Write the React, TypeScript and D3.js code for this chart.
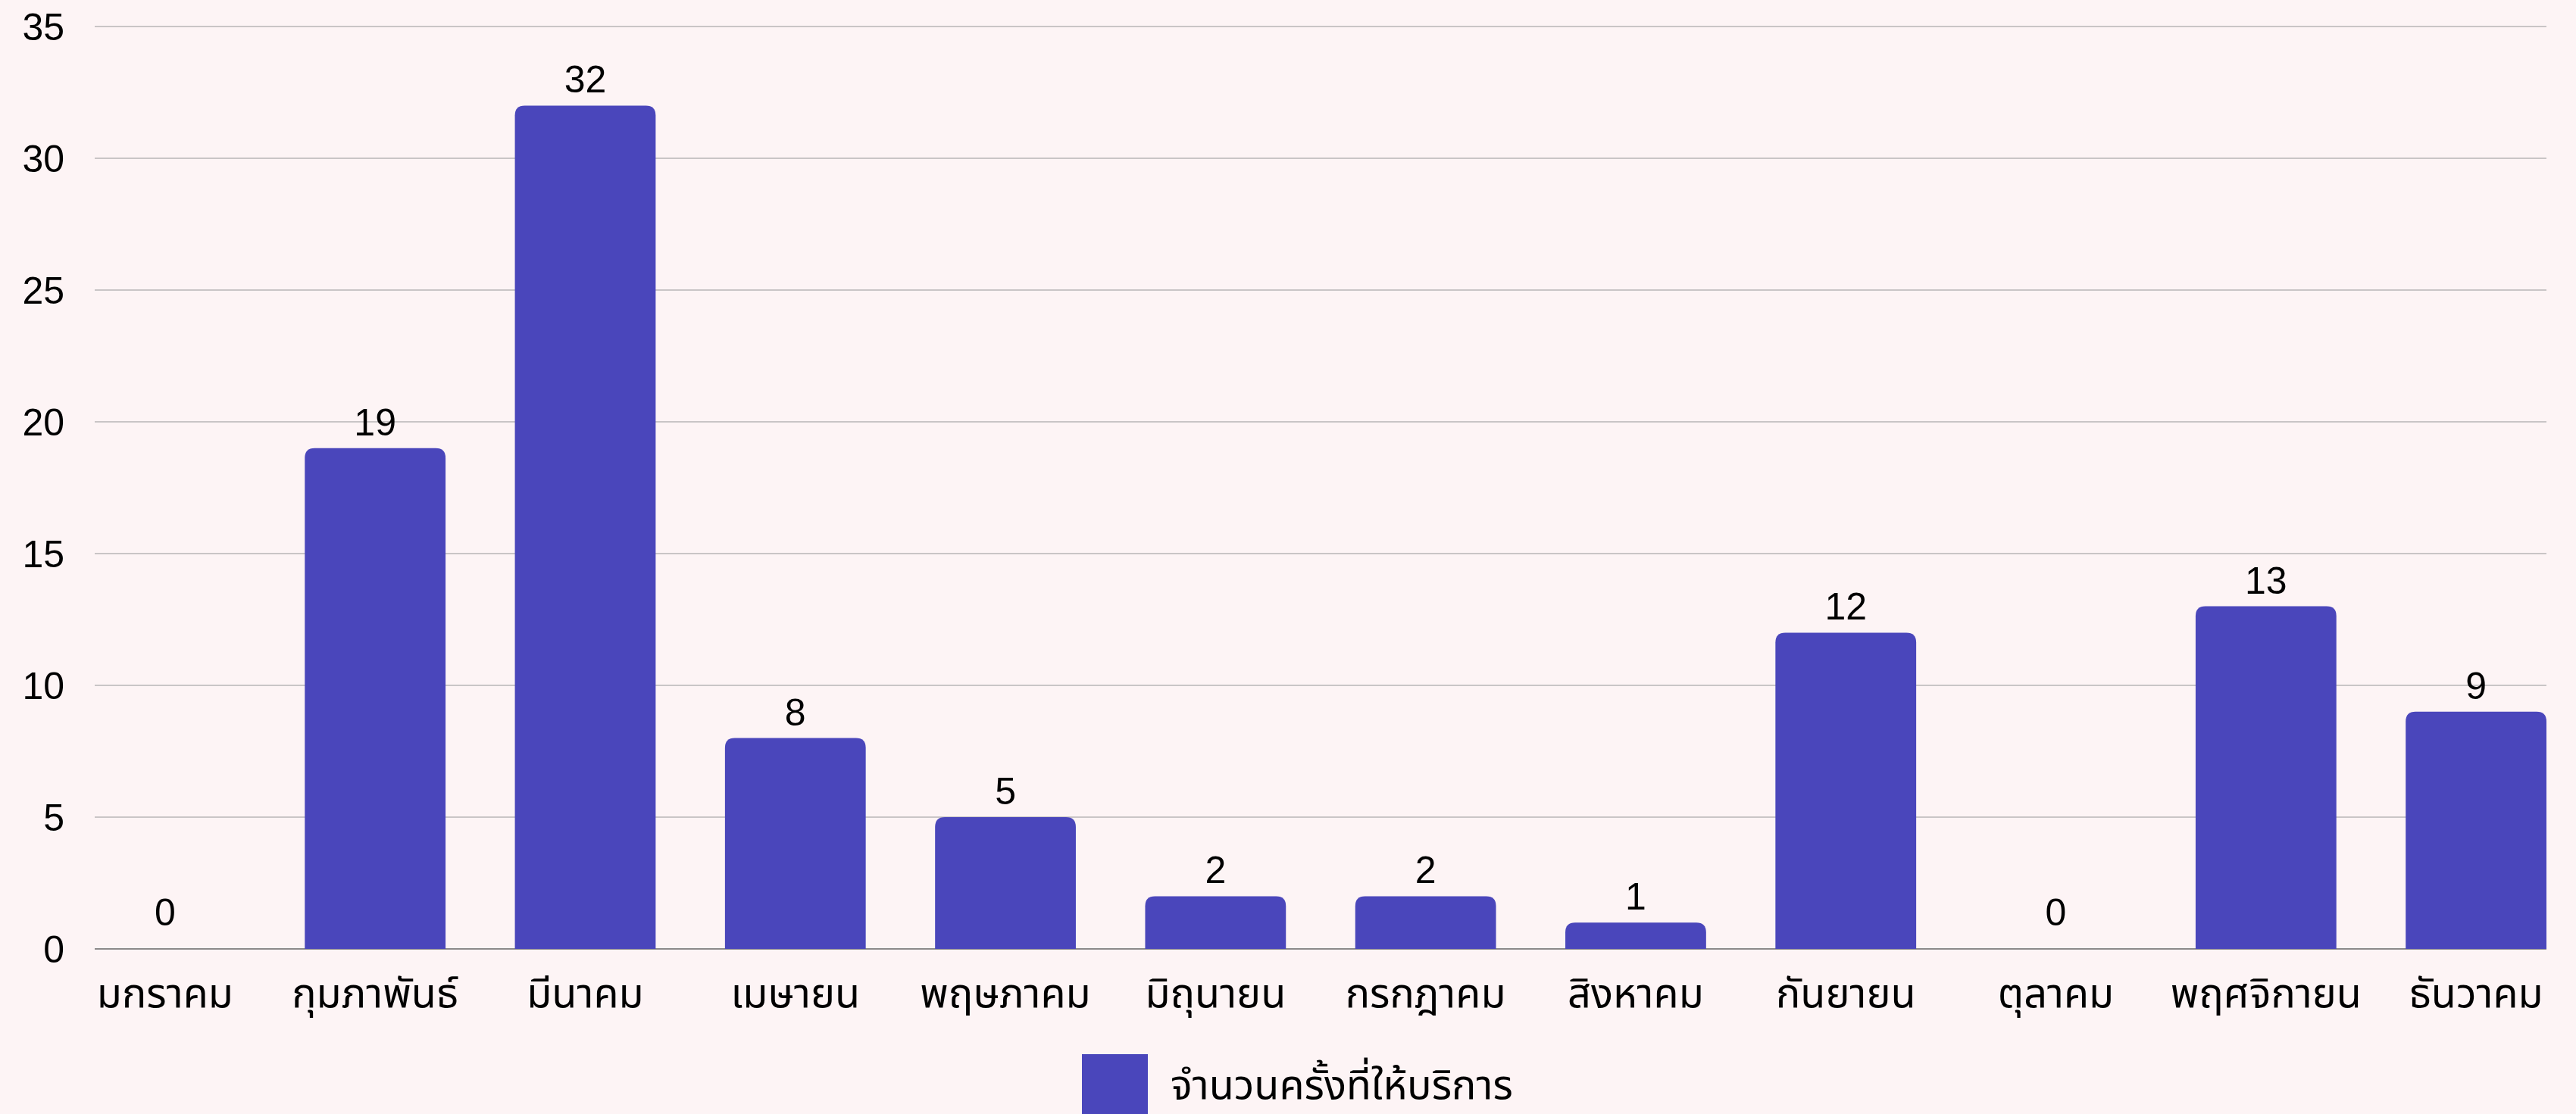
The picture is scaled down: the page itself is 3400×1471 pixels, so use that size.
import React, { useEffect, useRef } from 'react';
import * as d3 from 'd3';

const months = [
  'มกราคม', 'กุมภาพันธ์', 'มีนาคม', 'เมษายน', 'พฤษภาคม', 'มิถุนายน',
  'กรกฎาคม', 'สิงหาคม', 'กันยายน', 'ตุลาคม', 'พฤศจิกายน', 'ธันวาคม'
];
const serviceCounts = [0, 19, 32, 8, 5, 2, 2, 1, 12, 0, 13, 9];
const yTicks = [0, 5, 10, 15, 20, 25, 30, 35];
const seriesName = 'จำนวนครั้งที่ให้บริการ';

const W = 3400;
const H = 1471;
const BG = '#fdf4f5';
const BAR = '#4a46bb';
const NUM_FONT = '"Liberation Sans", Arial, sans-serif';
const THAI_FONT = '"Noto Sans Thai", "Noto Sans", sans-serif';

export default function App() {
  const svgRef = useRef<SVGSVGElement | null>(null);

  useEffect(() => {
    document.body.style.margin = '0';
    document.body.style.background = BG;
    const svg = d3.select(svgRef.current);
    svg.selectAll('*').remove();

    const margin = { top: 35, right: 39, bottom: 218, left: 125 };

    const x = d3.scaleBand<string>()
      .domain(months)
      .range([margin.left, W - margin.right])
      .paddingInner(0.33)
      .paddingOuter(0);

    const y = d3.scaleLinear()
      .domain([0, 35])
      .range([H - margin.bottom, margin.top]);

    svg.append('rect').attr('width', W).attr('height', H).attr('fill', BG);

    // grid lines
    svg.append('g')
      .selectAll('line')
      .data(yTicks)
      .join('line')
      .attr('x1', margin.left)
      .attr('x2', W - margin.right)
      .attr('y1', d => y(d))
      .attr('y2', d => y(d))
      .attr('stroke', d => (d === 0 ? '#8c8a8a' : '#c9c5c6'))
      .attr('stroke-width', 2);

    // y labels
    svg.append('g')
      .selectAll('text')
      .data(yTicks)
      .join('text')
      .attr('x', margin.left - 40)
      .attr('y', d => y(d))
      .attr('dy', '0.36em')
      .attr('text-anchor', 'end')
      .attr('fill', '#000')
      .style('font-family', NUM_FONT)
      .style('font-size', '50px')
      .text(d => d);

    // bars
    const r = 13;
    const rows = months.map((m, i) => ({ m, v: serviceCounts[i] }));
    svg.append('g')
      .selectAll('path')
      .data(rows)
      .join('path')
      .attr('fill', BAR)
      .attr('d', d => {
        const x0 = x(d.m)!;
        const x1 = x0 + x.bandwidth();
        const yt = y(d.v);
        const yb = y(0);
        if (yb - yt <= 0) return '';
        const rr = Math.min(r, yb - yt);
        return `M${x0},${yb}V${yt + rr}Q${x0},${yt} ${x0 + rr},${yt}H${x1 - rr}Q${x1},${yt} ${x1},${yt + rr}V${yb}Z`;
      });

    // value labels
    svg.append('g')
      .selectAll('text')
      .data(rows)
      .join('text')
      .attr('x', d => x(d.m)! + x.bandwidth() / 2)
      .attr('y', d => y(d.v) - (d.v === 0 ? 31 : 17))
      .attr('text-anchor', 'middle')
      .attr('fill', '#000')
      .style('font-family', NUM_FONT)
      .style('font-size', '50px')
      .text(d => d.v);

    // x labels
    svg.append('g')
      .selectAll('text')
      .data(months)
      .join('text')
      .attr('x', d => x(d)! + x.bandwidth() / 2)
      .attr('y', y(0) + 77)
      .attr('text-anchor', 'middle')
      .attr('fill', '#000')
      .style('font-family', THAI_FONT)
      .style('font-size', '54px')
      .text(d => d);

    // legend
    const legend = svg.append('g');
    legend.append('rect')
      .attr('x', 1428)
      .attr('y', 1392)
      .attr('width', 87)
      .attr('height', 87)
      .attr('fill', BAR);
    legend.append('text')
      .attr('x', 1545)
      .attr('y', 1451)
      .attr('fill', '#000')
      .style('font-family', THAI_FONT)
      .style('font-size', '54px')
      .text(seriesName);
  }, []);

  return (
    <svg
      ref={svgRef}
      width={W}
      height={H}
      style={{ display: 'block', position: 'absolute', left: 0, top: 0 }}
    />
  );
}
